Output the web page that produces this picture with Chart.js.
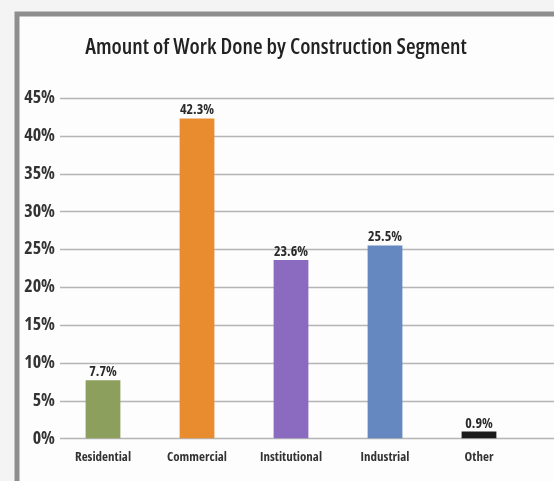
<!DOCTYPE html>
<html lang="en">
<head>
    <meta charset="UTF-8">
    <title>Amount of Work Done by Construction Segment</title>
    <style>
        body { margin: 0; padding: 0; background: #f4f4f4; }
        .chart-container { position: relative; width: 554px; height: 481px; }
    </style>
    <script src="https://cdn.jsdelivr.net/npm/chart.js"></script>
</head>
<body>
    <div class="chart-container">
        <canvas id="segmentChart"></canvas>
    </div>

    <script>
    // Data
    const segments = ["Residential", "Commercial", "Institutional", "Industrial", "Other"];
    const workShare = [7.7, 42.3, 23.6, 25.5, 0.9];
    const barColors = ["#8c9f5c", "#e98b2f", "#8a6bbf", "#6688c0", "#1a1a1a"];
    const yTicks = [0, 5, 10, 15, 20, 25, 30, 35, 40, 45];
    const chartTitle = "Amount of Work Done by Construction Segment";

    // Open Sans is variable here, so font-stretch "condensed" gives a narrow face
    const fontFamily = "'Open Sans', sans-serif";

    const framePlugin = {
        id: "frame",
        beforeDraw(chart) {
            const ctx = chart.ctx;
            ctx.save();
            ctx.fillStyle = "#fdfdfd";
            ctx.fillRect(17, 14, chart.width - 17, chart.height - 14);
            ctx.strokeStyle = "#8e8e8e";
            ctx.lineWidth = 5;
            ctx.beginPath();
            ctx.moveTo(17, chart.height);
            ctx.lineTo(17, 14);
            ctx.lineTo(chart.width, 14);
            ctx.stroke();

            // title
            ctx.fillStyle = "#222";
            ctx.font = "600 condensed 22px " + fontFamily;
            ctx.textAlign = "center";
            ctx.textBaseline = "alphabetic";
            ctx.fillText(chartTitle, 276, 54);
            ctx.restore();
        },
        beforeDatasetsDraw(chart) {
            const ctx = chart.ctx;
            const y = chart.scales.y;
            ctx.save();
            ctx.strokeStyle = "#b5b5b5";
            ctx.lineWidth = 1.5;
            yTicks.forEach(v => {
                const py = Math.round(y.getPixelForValue(v)) + 0.5;
                ctx.beginPath();
                ctx.moveTo(60, py);
                ctx.lineTo(chart.width, py);
                ctx.stroke();
            });
            ctx.restore();
        }
    };

    // value labels above each bar
    const valueLabels = {
        id: "valueLabels",
        afterDatasetsDraw(chart) {
            const ctx = chart.ctx;
            const meta = chart.getDatasetMeta(0);
            ctx.save();
            ctx.fillStyle = "#2a2a2a";
            ctx.font = "bold condensed 14px " + fontFamily;
            ctx.textAlign = "center";
            ctx.textBaseline = "bottom";
            meta.data.forEach((bar, i) => {
                ctx.fillText(workShare[i].toFixed(1) + "%", bar.x, bar.y - 1);
            });
            ctx.restore();
        }
    };

    new Chart(document.getElementById("segmentChart"), {
        type: "bar",
        data: {
            labels: segments,
            datasets: [{
                data: workShare,
                backgroundColor: barColors,
                barPercentage: 0.37,
                categoryPercentage: 1.0
            }]
        },
        options: {
            responsive: true,
            maintainAspectRatio: false,
            animation: false,
            layout: { padding: { left: 0, right: 28, top: 98, bottom: 5 } },
            plugins: { legend: { display: false }, tooltip: { enabled: false } },
            scales: {
                x: {
                    grid: { display: false, drawTicks: false },
                    border: { display: false },
                    ticks: {
                        color: "#333",
                        font: { family: fontFamily, size: 13, weight: "bold condensed" },
                        padding: 11
                    }
                },
                y: {
                    min: 0,
                    max: 45,
                    grid: { display: false, drawTicks: false },
                    border: { display: false },
                    afterFit(scale) { scale.width = 56; },
                    afterBuildTicks(scale) { scale.ticks = yTicks.map(v => ({ value: v })); },
                    ticks: {
                        color: "#333",
                        padding: 1,
                        font: { family: fontFamily, size: 18, weight: "bold condensed" },
                        callback: v => v + "%"
                    }
                }
            }
        },
        plugins: [framePlugin, valueLabels]
    });
    </script>
</body>
</html>
